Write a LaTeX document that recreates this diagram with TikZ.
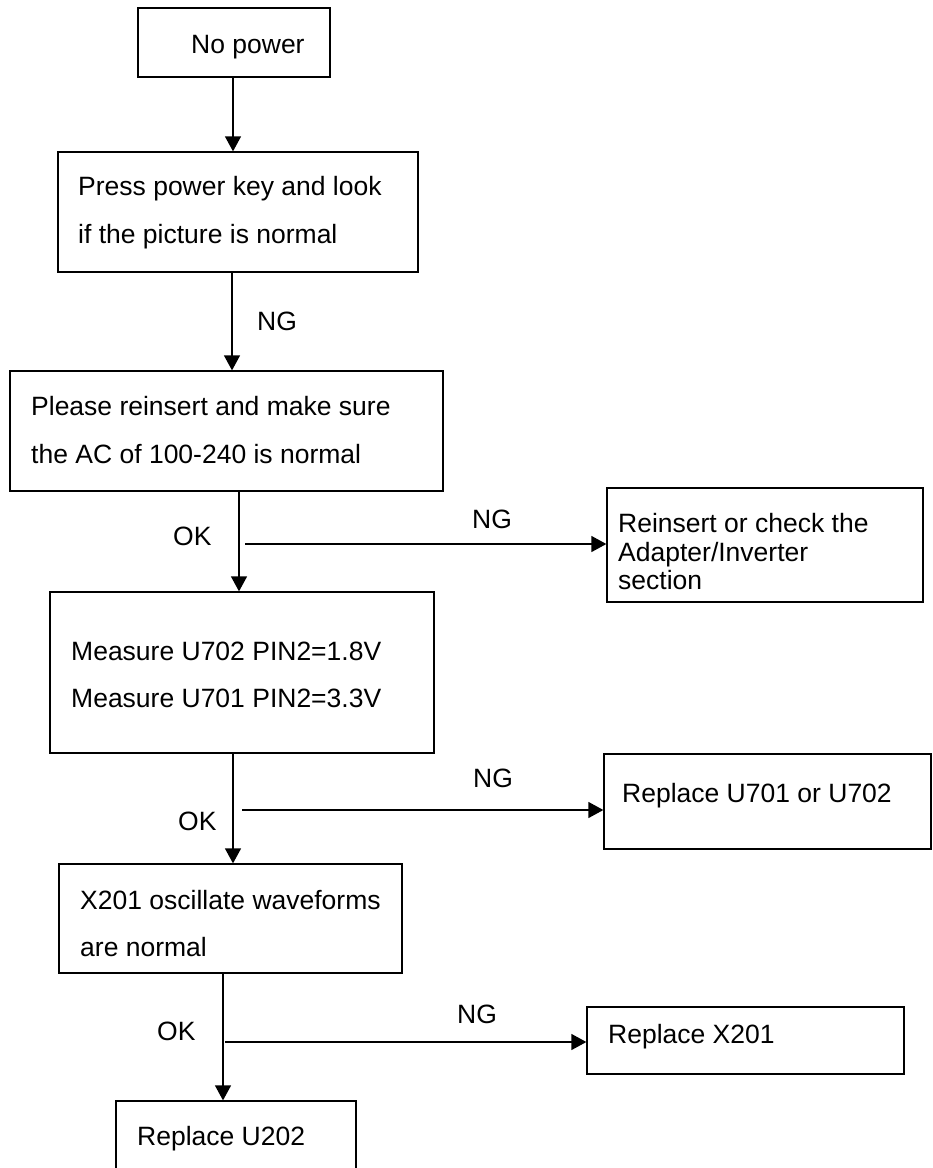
\documentclass[tikz,border=0pt]{standalone}
\usepackage{fontspec}
\setmainfont{Liberation Sans}
\usetikzlibrary{arrows.meta}
\begin{document}
\begin{tikzpicture}[x=1pt,y=-1pt,
  box/.style={draw,line width=1.3pt,inner sep=0pt,minimum width=#1},
  txt/.style={anchor=base west,inner sep=0pt,font=\fontsize{26.5}{30}\selectfont},
  arr/.style={line width=1.3pt,-{Triangle[length=15pt,width=16pt]}},
  ln/.style={line width=1.3pt}]
\useasboundingbox (0,0) rectangle (933,1168);
% boxes
\node[box=192pt,minimum height=69pt]  (b1) at (234,42.5) {};
\node[box=360pt,minimum height=120pt] (b2) at (238,212) {};
\node[box=433pt,minimum height=120pt] (b3) at (226.5,431) {};
\node[box=316pt,minimum height=114pt] (b4) at (765,545) {};
\node[box=384pt,minimum height=161pt] (b5) at (242,672.5) {};
\node[box=327pt,minimum height=95pt]  (b6) at (767.5,801.5) {};
\node[box=343pt,minimum height=109pt] (b7) at (230.5,918.5) {};
\node[box=317pt,minimum height=67pt]  (b8) at (745.5,1040.5) {};
\node[box=240pt,minimum height=72pt]  (b9) at (236,1137) {};
% texts
\node[txt] (t1) at (191,53) {No power};
\node[txt] (t2a) at (78,195) {Press power key and look};
\node[txt] (t2b) at (78,243) {if the picture is normal};
\node[txt] (ng1) at (257,330) {NG};
\node[txt] (t3a) at (31,415) {Please reinsert and make sure};
\node[txt] (t3b) at (31,463) {the AC of 100-240 is normal};
\node[txt] (ok1) at (173,545) {OK};
\node[txt] (ng2) at (472,528) {NG};
\node[txt] (t4a) at (618,532) {Reinsert or check the};
\node[txt] (t4b) at (618,561) {Adapter/Inverter};
\node[txt] (t4c) at (618,589) {section};
\node[txt] (t5a) at (71,660) {Measure U702 PIN2=1.8V};
\node[txt] (t5b) at (71,707) {Measure U701 PIN2=3.3V};
\node[txt] (ok2) at (178,830) {OK};
\node[txt] (ng3) at (473,787) {NG};
\node[txt] (t6) at (622,802) {Replace U701 or U702};
\node[txt] (t7a) at (80,909) {X201 oscillate waveforms};
\node[txt] (t7b) at (80,956) {are normal};
\node[txt] (ok3) at (157,1040) {OK};
\node[txt] (ng4) at (457,1023) {NG};
\node[txt] (t8) at (608,1043) {Replace X201};
\node[txt] (t9) at (137,1145) {Replace U202};
% vertical connectors
\coordinate (s1) at ([xshift=-1pt]b1.south);
\coordinate (s2) at ([xshift=-6pt]b2.south);
\coordinate (s3) at ([xshift=12.5pt]b3.south);
\coordinate (s4) at ([xshift=-9pt]b5.south);
\coordinate (s5) at ([xshift=-7.5pt]b7.south);
\draw[arr] (s1) -- (s1 |- b2.north);
\draw[arr] (s2) -- (s2 |- b3.north);
\draw[arr] (s3) -- (s3 |- b5.north);
\draw[arr] (s4) -- (s4 |- b7.north);
\draw[arr] (s5) -- (s5 |- b9.north);
% horizontal branches
\coordinate (j1) at (245,544);
\coordinate (j2) at (242,810);
\coordinate (j3) at (225,1042);
\draw[arr] (j1) -- (j1 -| b4.west);
\draw[arr] (j2) -- (j2 -| b6.west);
\draw[arr] (j3) -- (j3 -| b8.west);
\end{tikzpicture}
\end{document}
